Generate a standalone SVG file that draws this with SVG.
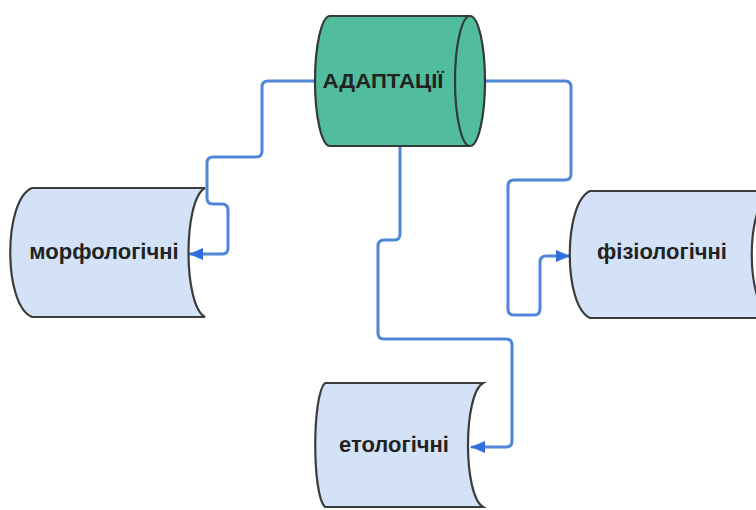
<svg xmlns="http://www.w3.org/2000/svg" width="756" height="510" viewBox="0 0 756 510">
  <style>
    .store { fill: #d3e2f7; stroke: #3c3c3c; stroke-width: 2.2; }
    .drum { fill: #52bd9d; stroke: #333a38; stroke-width: 2.2; }
    .label { font-family: "Liberation Sans", Arial, sans-serif; font-weight: bold; fill: #222; text-anchor: middle; }
    .link { fill: none; stroke: #4f86d8; stroke-width: 3; stroke-linejoin: round; stroke-linecap: round; }
  </style>
  <defs>
    <marker id="arrow" viewBox="0 0 14 12" refX="13" refY="6" markerWidth="14" markerHeight="12" markerUnits="userSpaceOnUse" orient="auto">
      <path d="M0,0 L14,6 L0,12 Z" fill="#2e6ddc"/>
    </marker>
  </defs>
  <rect width="756" height="510" fill="#ffffff"/>

  <g id="connectors">
    <path class="link" marker-end="url(#arrow)" d="M316,81 H268 Q262,81 262,87 V151 Q262,157 256,157 H213 Q207,157 207,163 V198 Q207,204 213,204 H222 Q228,204 228,210 V248 Q228,254 222,254 H190"/>
    <path class="link" marker-end="url(#arrow)" d="M485,81 H565 Q571,81 571,87 V174 Q571,180 565,180 H514 Q508,180 508,186 V309 Q508,315 514,315 H534 Q540,315 540,309 V262 Q540,256 546,256 H569"/>
    <path class="link" marker-end="url(#arrow)" d="M400,146 V234 Q400,240 394,240 H384 Q378,240 378,246 V333 Q378,339 384,339 H506 Q512,339 512,345 V441 Q512,447 506,447 H472"/>
  </g>

  <g id="adaptations">
    <path class="drum" d="M330,16 L470,16 A15,65 0 0 1 470,146 L330,146 A15,65 0 0 1 330,16 Z"/>
    <path class="drum" d="M470,16 A15,65 0 0 0 470,146"/>
    <text class="label" x="383" y="88" font-size="20" textLength="121" lengthAdjust="spacingAndGlyphs">АДАПТАЦІЇ</text>
  </g>

  <g id="morphological">
    <path class="store" d="M32,188 L205,188 C183,200 183,305 205,317 L32,317 C3,305 3,200 32,188 Z"/>
    <text class="label" x="104" y="259" font-size="22">морфологічні</text>
  </g>

  <g id="physiological">
    <path class="store" d="M590,191 L772,191 C745,203 745,306 772,318 L590,318 C563,306 563,203 590,191 Z"/>
    <text class="label" x="662" y="259" font-size="22">фізіологічні</text>
  </g>

  <g id="ethological">
    <path class="store" d="M325,383 L483,383 C463,395 463,495 483,507 L325,507 C312,495 312,395 325,383 Z"/>
    <text class="label" x="394" y="452" font-size="22">етологічні</text>
  </g>
</svg>
